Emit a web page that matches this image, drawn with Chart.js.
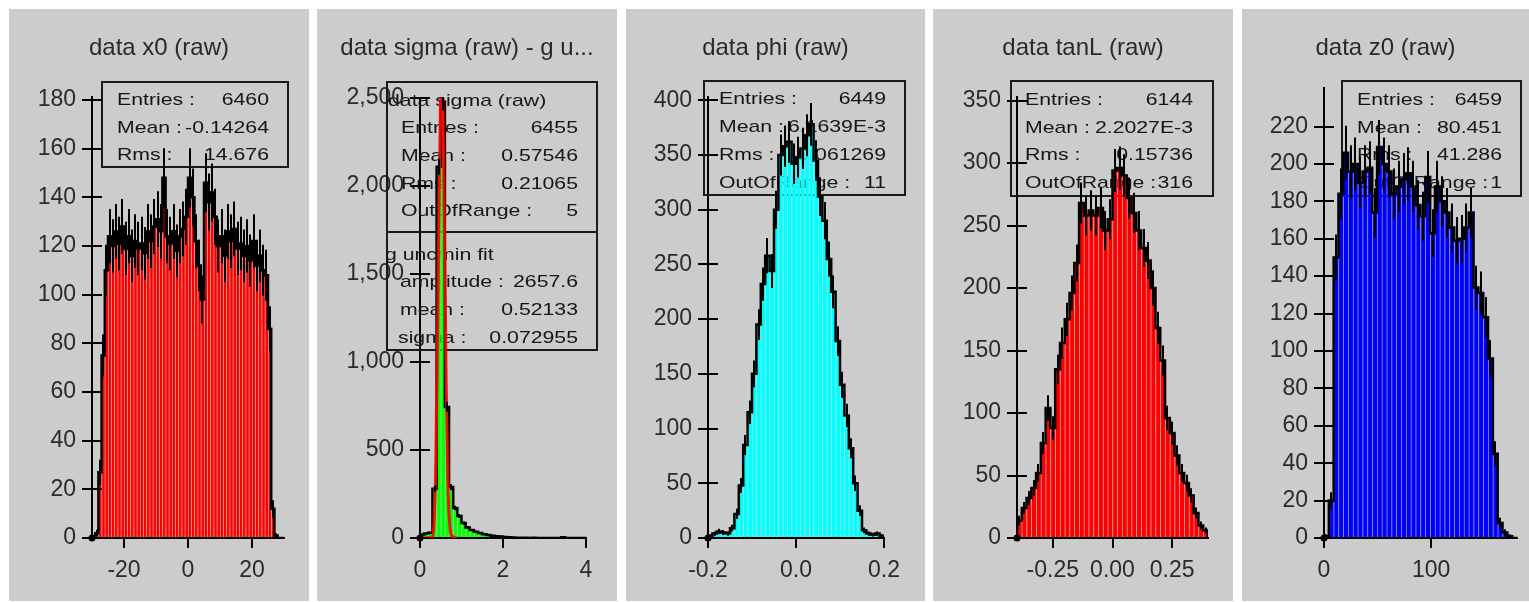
<!DOCTYPE html>
<html><head><meta charset="utf-8">
<script src="https://cdn.jsdelivr.net/npm/chart.js@4.4.1/dist/chart.umd.min.js"></script>
<style>
html,body{margin:0;padding:0;background:#fff;width:1529px;height:602px;overflow:hidden;}
.panel{position:absolute;background:#cccccc;overflow:hidden;}
.panel canvas{position:absolute;left:0;top:0;}
</style></head><body>
<script>
// ---------------- DATA ----------------
// data x0 (raw): 60 bins on [-30, 30]
const x0Range = [-30, 30];
const x0Values = [0,2,27,75,110,124,120,126,121,128, 119,124,116,122,119,121,117,126,122,128,
  131,126,148,124,121,126,118,124,127,132, 148,140,122,112,98,146,138,142,132,120,
  124,116,126,122,127,119,121,116,120,114, 122,112,116,110,108,86,12,1,0,0];
const x0XTicks = [-20, 0, 20];
const x0XLabels = ['-20', '0', '20'];
const x0YTicks = [0,20,40,60,80,100,120,140,160,180];
const x0YLabels = ['0','20','40','60','80','100','120','140','160','180'];

// data sigma (raw): 40 bins on [0, 4]
const sigmaRange = [0, 4];
const sigmaValues = [20,25,30,280,2110,2480,745,290,170,125, 85,60,45,35,28,22,17,13,10,8,
  6,4,3,2,1,1,0,1,0,0, 0,0,0,0,4,0,0,0,0,0];
const sigmaFitX = [0.05,0.30,0.34,0.38,0.42,0.46,0.50,0.52,0.55,0.59,0.63,0.67,0.71,0.78,0.90];
const sigmaFitY = [0,5,100,420,1100,1900,2550,2660,2500,1750,900,340,95,10,0];
const sigmaXTicks = [0, 2, 4];
const sigmaXLabels = ['0', '2', '4'];
const sigmaYTicks = [0,500,1000,1500,2000,2500];
const sigmaYLabels = ['0','500','1,000','1,500','2,000','2,500'];

// data phi (raw): 40 bins on [-0.2, 0.2]
const phiRange = [-0.2, 0.2];
const phiValues = [2,4,6,5,4,9,22,48,85,115, 150,195,232,258,244,300,350,358,362,342,
  348,356,368,378,345,312,290,255,225,180, 140,112,82,50,25,7,4,3,4,2];
const phiXTicks = [-0.2, 0, 0.2];
const phiXLabels = ['-0.2', '0.0', '0.2'];
const phiYTicks = [0,50,100,150,200,250,300,350,400];
const phiYLabels = ['0','50','100','150','200','250','300','350','400'];

// data tanL (raw): 40 bins on [-0.4, 0.4]
const tanLRange = [-0.4, 0.4];
const tanLValues = [14,24,32,40,52,76,104,88,135,156, 175,196,220,268,258,262,258,264,246,255,
  294,296,290,272,260,246,232,222,200,168, 142,96,84,66,52,44,34,20,10,6];
const tanLXTicks = [-0.25, 0, 0.25];
const tanLXLabels = ['-0.25', '0.00', '0.25'];
const tanLYTicks = [0,50,100,150,200,250,300,350];
const tanLYLabels = ['0','50','100','150','200','250','300','350'];

// data z0 (raw): 40 bins on [0, 180]
const z0Range = [0, 180];
const z0Values = [1,20,150,184,206,196,200,190,196,198, 174,209,200,196,184,188,192,195,188,178,
  172,193,163,188,180,174,166,159,160,166, 174,134,131,118,96,45,8,3,1,0];
const z0XTicks = [0, 100];
const z0XLabels = ['0', '100'];
const z0YTicks = [0,20,40,60,80,100,120,140,160,180,200,220];
const z0YLabels = ['0','20','40','60','80','100','120','140','160','180','200','220'];

// ---------------- LAYOUT ----------------
const FONT = '"Liberation Sans", Arial, sans-serif';
const panels = [
  { key:'x0', title:'data x0 (raw)', left:9, top:9, width:300, height:592,
    area:{left:92, right:284, top:97, bottom:538}, yMax:181.2, color:'#ff0000', stripe:'rgba(255,90,90,0.22)',
    range:x0Range, values:x0Values, xTicks:x0XTicks, xLabels:x0XLabels, yTicks:x0YTicks, yLabels:x0YLabels,
    box:{rect:[102,82,288,167], vx:269, rows:[
      {l:'Entries :', v:'6460', lx:117, y:105},
      {l:'Mean :', v:'-0.14264', lx:117, y:133},
      {l:'Rms :', v:'14.676', lx:117, y:160}]}},
  { key:'sigma', title:'data sigma (raw) - g u...', left:317, top:9, width:300, height:592,
    area:{left:420, right:586, top:98, bottom:538}, yMax:2500, color:'#00ff00', stripe:'rgba(110,255,110,0.25)',
    range:sigmaRange, values:sigmaValues, xTicks:sigmaXTicks, xLabels:sigmaXLabels, yTicks:sigmaYTicks, yLabels:sigmaYLabels,
    fit:{x:sigmaFitX, y:sigmaFitY},
    box:{rect:[387,82,597,350], divider:232, vx:578, rows:[
      {l:'data sigma (raw)', v:'', lx:388, y:106},
      {l:'Entries :', v:'6455', lx:401, y:133},
      {l:'Mean :', v:'0.57546', lx:401, y:161},
      {l:'Rms :', v:'0.21065', lx:401, y:189},
      {l:'OutOfRange :', v:'5', lx:401, y:216},
      {l:'g uncmin fit', v:'', lx:385, y:260},
      {l:'amplitude :', v:'2657.6', lx:400, y:287},
      {l:'mean :', v:'0.52133', lx:400, y:315},
      {l:'sigma :', v:'0.072955', lx:398, y:343}]}},
  { key:'phi', title:'data phi (raw)', left:626, top:9, width:299, height:592,
    area:{left:708, right:884, top:97, bottom:538}, yMax:403, color:'#00ffff', stripe:'rgba(130,255,255,0.35)',
    range:phiRange, values:phiValues, xTicks:phiXTicks, xLabels:phiXLabels, yTicks:phiYTicks, yLabels:phiYLabels,
    box:{rect:[704,81,905,195], vx:886, rows:[
      {l:'Entries :', v:'6449', lx:719, y:104},
      {l:'Mean :', v:'6.1639E-3', lx:719, y:132},
      {l:'Rms :', v:'0.061269', lx:719, y:160},
      {l:'OutOfRange :', v:'11', lx:719, y:188}]}},
  { key:'tanL', title:'data tanL (raw)', left:933, top:9, width:300, height:592,
    area:{left:1017, right:1208, top:97, bottom:538}, yMax:352.8, color:'#ff0000', stripe:'rgba(255,90,90,0.22)',
    range:tanLRange, values:tanLValues, xTicks:tanLXTicks, xLabels:tanLXLabels, yTicks:tanLYTicks, yLabels:tanLYLabels,
    box:{rect:[1011,81,1213,196], vx:1193, rows:[
      {l:'Entries :', v:'6144', lx:1025, y:105},
      {l:'Mean :', v:'2.2027E-3', lx:1025, y:133},
      {l:'Rms :', v:'0.15736', lx:1025, y:160},
      {l:'OutOfRange :', v:'316', lx:1025, y:188}]}},
  { key:'z0', title:'data z0 (raw)', left:1242, top:9, width:287, height:592,
    area:{left:1324, right:1517, top:88, bottom:538}, yMax:240.6, color:'#0000ff', stripe:'rgba(80,80,255,0.35)',
    range:z0Range, values:z0Values, xTicks:z0XTicks, xLabels:z0XLabels, yTicks:z0YTicks, yLabels:z0YLabels,
    box:{rect:[1342,81,1521,196], vx:1502, rows:[
      {l:'Entries :', v:'6459', lx:1357, y:105},
      {l:'Mean :', v:'80.451', lx:1357, y:133},
      {l:'Rms :', v:'41.286', lx:1357, y:160},
      {l:'OutOfRange :', v:'1', lx:1357, y:188}]}}
];

function drawStretched(ctx, text, x, y, align) {
  ctx.save(); ctx.translate(x, y); ctx.scale(1.25, 1);
  ctx.textAlign = align; ctx.textBaseline = 'alphabetic';
  ctx.fillText(text, 0, 0); ctx.restore();
}

function makePlugin(p) {
  return {
    id: 'deco_' + p.key,
    beforeDatasetsDraw(chart) {
      const ctx = chart.ctx, ox = p.left, oy = p.top;
      ctx.save();
      ctx.fillStyle = '#2a2a2a';
      ctx.font = '24px ' + FONT;
      ctx.textAlign = 'center'; ctx.textBaseline = 'alphabetic';
      ctx.fillText(p.title, p.width / 2, 55 - oy);
      const [x1, y1, x2, y2] = p.box.rect;
      ctx.strokeStyle = '#1a1a1a'; ctx.lineWidth = 2;
      ctx.strokeRect(x1 - ox, y1 - oy, x2 - x1, y2 - y1);
      if (p.box.divider) {
        ctx.beginPath(); ctx.moveTo(x1 - ox, p.box.divider - oy); ctx.lineTo(x2 - ox, p.box.divider - oy); ctx.stroke();
      }
      ctx.font = '17px ' + FONT; ctx.fillStyle = '#151515';
      p.box.rows.forEach(r => {
        drawStretched(ctx, r.l, r.lx - ox, r.y - oy, 'left');
        if (r.v) drawStretched(ctx, r.v, p.box.vx - ox, r.y - oy, 'right');
      });
      ctx.restore();
    },
    afterDatasetsDraw(chart) {
      const ctx = chart.ctx, a = chart.chartArea, ys = chart.scales.y;
      const meta = chart.getDatasetMeta(0);
      ctx.save();
      ctx.beginPath(); ctx.rect(a.left, a.top - 1, a.right - a.left + 2, a.bottom - a.top + 1); ctx.clip();
      ctx.strokeStyle = '#000'; ctx.lineWidth = 2;
      meta.data.forEach((el, i) => {
        const v = p.values[i];
        if (v <= 0) return;
        const e = Math.sqrt(v);
        const yt = ys.getPixelForValue(v + e), yb = ys.getPixelForValue(Math.max(0, v - e));
        ctx.beginPath(); ctx.moveTo(Math.round(el.x), yt); ctx.lineTo(Math.round(el.x), yb); ctx.stroke();
      });
      ctx.restore();
      // inner halves of the y tick marks
      ctx.save();
      ctx.strokeStyle = '#000'; ctx.lineWidth = 2;
      ys.ticks.forEach(t => {
        const y = Math.round(ys.getPixelForValue(t.value));
        ctx.beginPath(); ctx.moveTo(a.left, y); ctx.lineTo(a.left + 10, y); ctx.stroke();
      });
      ctx.restore();
    }
  };
}

function buildPanel(p) {
  const div = document.createElement('div');
  div.className = 'panel';
  Object.assign(div.style, {left: p.left + 'px', top: p.top + 'px', width: p.width + 'px', height: p.height + 'px'});
  const cv = document.createElement('canvas');
  cv.width = p.width; cv.height = p.height;
  cv.style.width = p.width + 'px'; cv.style.height = p.height + 'px';
  div.appendChild(cv); document.body.appendChild(div);

  const n = p.values.length, lo = p.range[0], hi = p.range[1], w = (hi - lo) / n;
  const bars = p.values.map((v, i) => ({x: lo + w * (i + 0.5), y: v}));
  const outline = [{x: lo, y: 0}];
  p.values.forEach((v, i) => outline.push({x: lo + w * i, y: v}));
  outline.push({x: hi, y: p.values[n - 1]});
  outline.push({x: hi, y: 0});

  const datasets = [
    {type: 'bar', data: bars, backgroundColor: p.color, borderColor: p.stripe,
     borderWidth: {left: 1, right: 0, top: 0, bottom: 0}, borderSkipped: false,
     barPercentage: 1, categoryPercentage: 1, order: 10},
    {type: 'line', data: outline, stepped: 'before', borderColor: '#000', borderWidth: 2.5,
     pointRadius: 0, fill: false, order: 5}
  ];
  if (p.fit) {
    datasets.push({type: 'line', data: p.fit.x.map((x, i) => ({x, y: p.fit.y[i]})),
      borderColor: 'rgba(255,0,0,0.9)', borderWidth: 3, pointRadius: 0, fill: false,
      cubicInterpolationMode: 'monotone', order: 2});
  }
  datasets.push({type: 'line', data: [{x: lo, y: 0}], showLine: false, pointRadius: 3.5,
    pointBackgroundColor: '#000', pointBorderWidth: 0, clip: false, order: 1});

  const tickFont = {family: FONT, size: 23};
  new Chart(cv, {
    type: 'bar',
    data: {datasets},
    plugins: [makePlugin(p)],
    options: {
      responsive: false, animation: false, devicePixelRatio: 1,
      events: [],
      layout: {padding: {left: 0, top: p.area.top - p.top, right: p.left + p.width - p.area.right, bottom: 0}},
      plugins: {legend: {display: false}, tooltip: {enabled: false}, title: {display: false}},
      scales: {
        x: {
          type: 'linear', min: lo, max: hi, offset: false,
          afterBuildTicks: s => { s.ticks = p.xTicks.map(v => ({value: v})); },
          afterFit: s => { s.height = p.top + p.height - p.area.bottom; },
          grid: {display: true, drawOnChartArea: false, drawTicks: true, tickLength: 10,
                 color: '#000', lineWidth: 2, offset: false},
          border: {display: true, color: '#000', width: 2},
          ticks: {font: tickFont, color: '#2a2a2a', padding: 9, maxRotation: 0, autoSkip: false,
                  callback: v => p.xLabels[p.xTicks.indexOf(v)]}
        },
        y: {
          type: 'linear', min: 0, max: p.yMax,
          afterBuildTicks: s => { s.ticks = p.yTicks.map(v => ({value: v})); },
          afterFit: s => { s.width = p.area.left - p.left; },
          grid: {display: true, drawOnChartArea: false, drawTicks: true, tickLength: 10,
                 color: '#000', lineWidth: 2},
          border: {display: true, color: '#000', width: 2},
          ticks: {font: tickFont, color: '#2a2a2a', padding: 6, autoSkip: false,
                  callback: v => p.yLabels[p.yTicks.indexOf(v)]}
        }
      }
    }
  });
}
panels.forEach(buildPanel);
</script>
</body></html>
